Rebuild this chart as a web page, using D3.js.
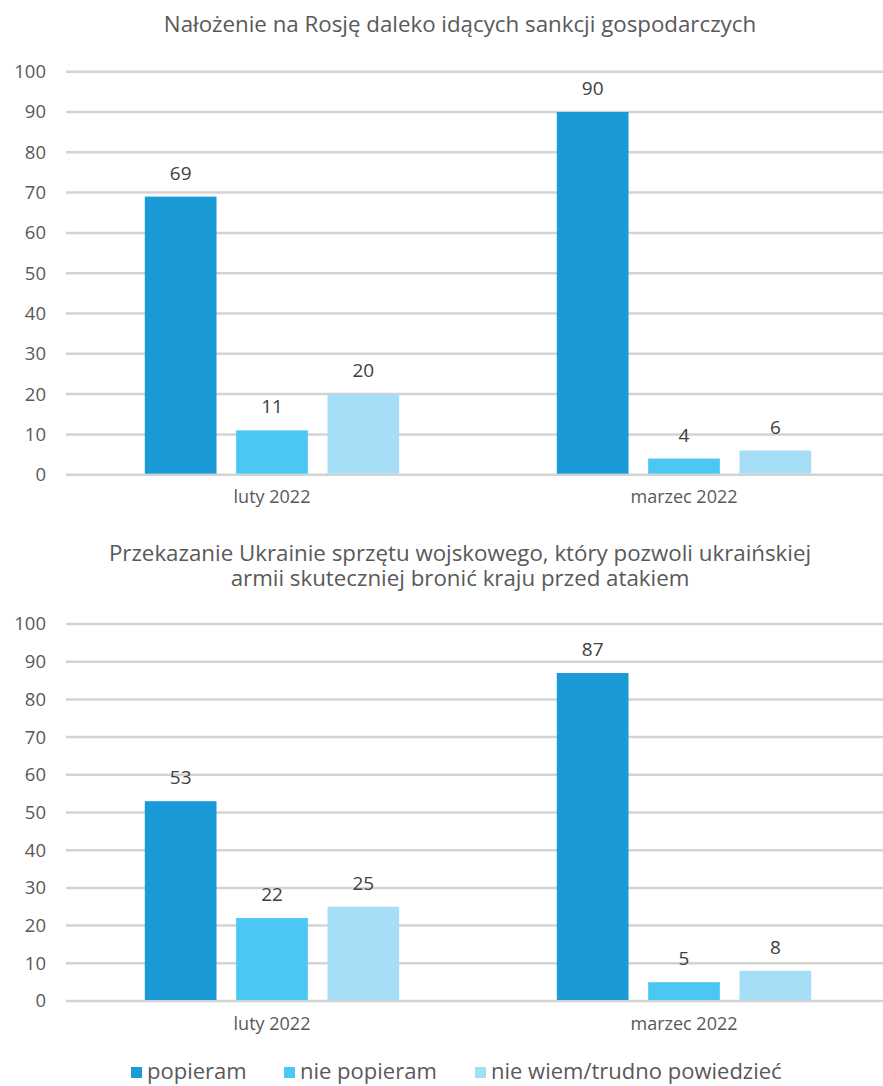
<!DOCTYPE html>
<html><head><meta charset="utf-8">
<script src="https://cdn.jsdelivr.net/npm/d3@7"></script>
<style>
html,body{margin:0;padding:0;background:#fff;}
text{font-family:"Open Sans",sans-serif;}
</style></head>
<body><svg id="c" width="883" height="1086"></svg>
<script>
const categories = ["luty 2022", "marzec 2022"];
const seriesNames = ["popieram", "nie popieram", "nie wiem/trudno powiedzieć"];
const sanctionsPopieram = [69, 90];
const sanctionsNiePopieram = [11, 4];
const sanctionsNieWiem = [20, 6];
const weaponsPopieram = [53, 87];
const weaponsNiePopieram = [22, 5];
const weaponsNieWiem = [25, 8];
const yTicks = [0, 10, 20, 30, 40, 50, 60, 70, 80, 90, 100];
const title1 = ["Nałożenie na Rosję daleko idących sankcji gospodarczych"];
const title2 = ["Przekazanie Ukrainie sprzętu wojskowego, który pozwoli ukraińskiej", "armii skuteczniej bronić kraju przed atakiem"];
const colors = ["#1a9ad7", "#4ac8f3", "#a6def7"];

const svg = d3.select("#c");
const color = d3.scaleOrdinal().domain(seriesNames).range(colors);

function drawChart(seriesVals, titleLines, titleY, yTop, yBottom) {
  const g = svg.append("g");
  const x0 = d3.scaleBand().domain(categories).range([66, 890]).paddingInner(0).paddingOuter(0);
  const x1 = d3.scaleBand().domain(seriesNames).range([-127.2, 127.2]).paddingInner(0.215).paddingOuter(0);
  const y = d3.scaleLinear().domain([0, 100]).range([yBottom, yTop]);

  titleLines.forEach((t, i) => {
    g.append("text").attr("x", 460).attr("y", titleY + i * 24.5)
      .attr("text-anchor", "middle").attr("font-size", 22.3).attr("fill", "#595959").text(t);
  });

  g.selectAll("line.grid").data(yTicks).enter().append("line")
    .attr("x1", 66).attr("x2", 883)
    .attr("y1", d => y(d)).attr("y2", d => y(d))
    .attr("stroke", "#d3d3d3").attr("stroke-width", 2.5);

  g.selectAll("text.tick").data(yTicks).enter().append("text")
    .attr("x", 46).attr("y", d => y(d)).attr("dy", "0.35em")
    .attr("text-anchor", "end").attr("font-size", 18.5).attr("fill", "#595959").text(d => d);

  const rows = [];
  categories.forEach((c, ci) => {
    seriesNames.forEach((s, si) => rows.push({c, s, v: seriesVals[si][ci]}));
  });

  g.selectAll("rect.bar").data(rows).enter().append("rect")
    .attr("x", d => x0(d.c) + x0.bandwidth() / 2 + x1(d.s))
    .attr("width", x1.bandwidth())
    .attr("y", d => y(d.v)).attr("height", d => y(0) - y(d.v) - 1)
    .attr("fill", d => color(d.s));

  g.selectAll("text.lab").data(rows).enter().append("text")
    .attr("x", d => x0(d.c) + x0.bandwidth() / 2 + x1(d.s) + x1.bandwidth() / 2)
    .attr("y", d => y(d.v) - 17)
    .attr("text-anchor", "middle").attr("font-size", 19).attr("fill", "#404040").text(d => d.v);

  g.selectAll("text.cat").data(categories).enter().append("text")
    .attr("x", d => x0(d) + x0.bandwidth() / 2).attr("y", yBottom + 28.5)
    .attr("text-anchor", "middle").attr("font-size", 18).attr("fill", "#595959").text(d => d);
}

drawChart([sanctionsPopieram, sanctionsNiePopieram, sanctionsNieWiem], title1, 32, 71.7, 474.7);
drawChart([weaponsPopieram, weaponsNiePopieram, weaponsNieWiem], title2, 561, 624, 1001);

// legend
const legendX = [131, 284, 475];
const lg = svg.append("g");
seriesNames.forEach((s, i) => {
  lg.append("rect").attr("x", legendX[i]).attr("y", 1067).attr("width", 11).attr("height", 11).attr("fill", color(s));
  lg.append("text").attr("x", legendX[i] + 16).attr("y", 1079).attr("font-size", 22).attr("fill", "#595959").text(s);
});
</script></body></html>
